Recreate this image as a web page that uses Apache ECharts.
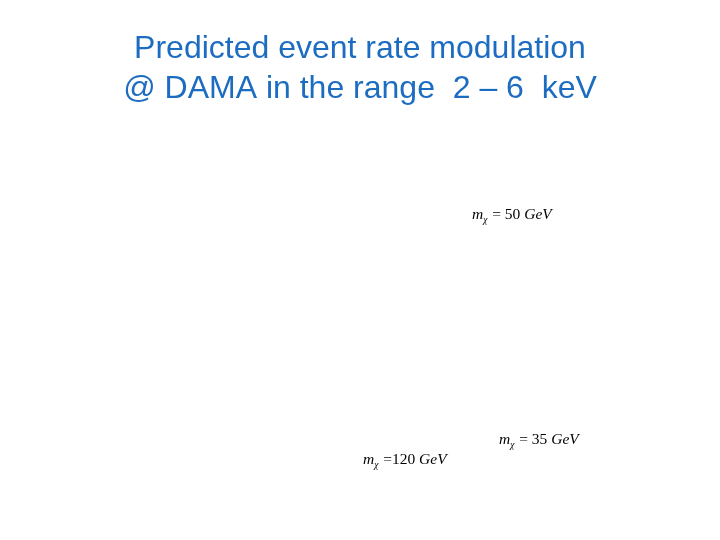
<!DOCTYPE html>
<html>
<head>
<meta charset="utf-8">
<script src="https://cdn.jsdelivr.net/npm/echarts@6/dist/echarts.min.js"></script>
<style>html,body{margin:0;padding:0;background:#fff;}#c{width:720px;height:540px;}</style>
</head>
<body>
<div id="c"></div>
<script>
var titleLines = ['Predicted event rate modulation', '@ DAMA in the range  2 \u2013 6  keV'];
var massValues = ['50', '35', '120'];
var massSeparators = [' = ', ' = ', ' ='];
var massUnit = 'GeV';

var chart = echarts.init(document.getElementById('c'));
var labelPos = [[472, 205], [499, 430], [363, 450]];
var fs = 15.5;
var rich = {
  m: {fontFamily: 'Liberation Serif', fontStyle: 'italic', fontSize: fs, color: '#000', lineHeight: 20},
  s: {fontFamily: 'Liberation Serif', fontStyle: 'italic', fontSize: 9.5, color: '#000', lineHeight: 20, padding: [10, 1, 0, 0]},
  e: {fontFamily: 'Liberation Serif', fontSize: fs, color: '#000', lineHeight: 20},
  u: {fontFamily: 'Liberation Serif', fontStyle: 'italic', fontSize: fs, color: '#000', lineHeight: 20}
};
var graphics = massValues.map(function (v, i) {
  return {
    type: 'text', left: labelPos[i][0], top: labelPos[i][1],
    style: {
      text: '{m|m}{s|\u03c7}{e|' + massSeparators[i] + v + ' }{u|' + massUnit + '}',
      rich: rich
    }
  };
});
var titleTops = [29, 69];
chart.setOption({
  backgroundColor: '#fff',
  title: titleLines.map(function (t, i) {
    return {
      text: t, left: 'center', top: titleTops[i], padding: 0,
      textStyle: {fontFamily: 'Liberation Sans', fontSize: 32, fontWeight: 'normal', color: '#1c6cc2', lineHeight: 40}
    };
  }),
  graphic: graphics,
  series: []
});
</script>
</body>
</html>
